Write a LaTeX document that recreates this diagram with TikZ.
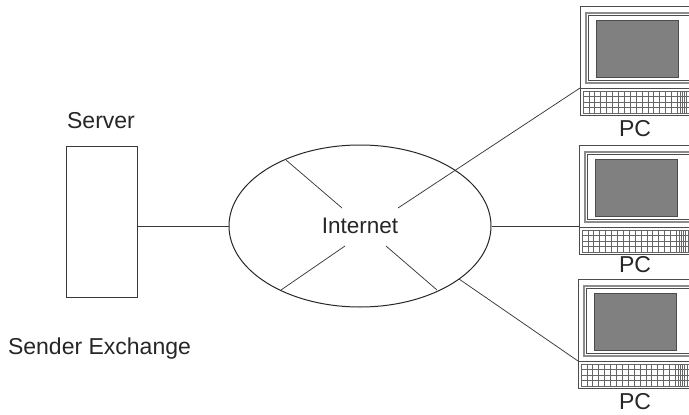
\documentclass[tikz,border=0pt]{standalone}
\usepackage{fontspec}
\setmainfont{Liberation Sans}
\usetikzlibrary{shapes.geometric}
\definecolor{ink}{gray}{0.22}
\definecolor{screenfill}{gray}{0.5}
\tikzset{
  wire/.style={draw=ink,line width=0.75pt},
  lbl/.style={font=\fontsize{23}{27}\selectfont,text=black!85,inner sep=0pt},
  cloud/.style={ellipse,draw=black!85,line width=1pt,minimum width=262pt,minimum height=162pt,inner sep=0pt,font=\fontsize{22.5}{27}\selectfont,text=black!85},
  serverbox/.style={rectangle,draw=ink,line width=0.9pt,minimum width=71pt,minimum height=151pt,inner sep=0pt},
  pcline/.style={draw=black!70,line width=0.9pt},
  pcthick/.style={draw=black!45,line width=1.5pt},
  pcgrid/.style={draw=black!60,line width=0.7pt},
  pcunit/.pic={
    \draw[pcline] (111,0) -- (0,0) -- (0,109) -- (111,109);
    \draw[pcline] (0,82) -- (111,82);
    \draw[pcthick] (111,7) -- (6,7) -- (6,77) -- (111,77);
    \draw[pcline] (111,9.5) -- (8.5,9.5) -- (8.5,74.5) -- (111,74.5);
    \fill[screenfill] (16,14) rectangle (98,71);
    \draw[pcline] (16,14) rectangle (98,71);
    \draw[pcgrid] (3,85) rectangle (111,107);
    \foreach \r in {90.5,96,101.5} \draw[pcgrid] (3,\r) -- (111,\r);
    \foreach \c in {0,...,16} \draw[pcgrid] ({3+\c*5.9},85) -- ({3+\c*5.9},107);
    \foreach \c in {1,...,5} \draw[pcgrid] ({98+\c*2.2},85) -- ({98+\c*2.2},107);
    \coordinate (-port) at (0,82);
  }
}
\begin{document}
\begin{tikzpicture}[x=1pt,y=-1pt]
\useasboundingbox (0,0) rectangle (689,415);
\node[serverbox] (srv) at (101.5,221.5) {};
\node[lbl] (srvlabel) at (101,121) {Server};
\node[lbl] (exlabel) at (99.5,349) {Sender Exchange};
\node[cloud] (net) at (360,226) {Internet};
\pic (pca) at (580,6) {pcunit};
\pic (pcb) at (579,145) {pcunit};
\pic (pcc) at (578,279) {pcunit};
\node[lbl] (pcalabel) at (635,129) {PC};
\node[lbl] (pcblabel) at (635,265) {PC};
\node[lbl] (pcclabel) at (635,402) {PC};
\coordinate (ne) at (398,208);
\coordinate (nw) at (342,208);
\coordinate (nwrim) at (286,160);
\coordinate (sw) at (345,246);
\coordinate (swrim) at (281,290);
\coordinate (serim) at (437,290);
\coordinate (sein) at (386,246);
\coordinate (seout) at (459,279);
\draw[wire] (srv.east |- net.west) -- (net.west);
\draw[wire] (net.east) -- (pcb-port |- net.east);
\draw[wire] (ne) -- (pca-port);
\draw[wire] (nwrim) -- (nw);
\draw[wire] (sw) -- (swrim);
\draw[wire] (sein) -- (serim);
\draw[wire] (seout) -- (pcc-port);
\end{tikzpicture}
\end{document}
